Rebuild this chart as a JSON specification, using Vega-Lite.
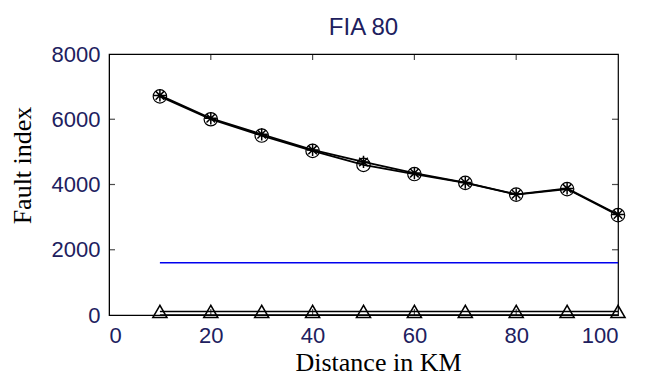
{
  "$schema": "https://vega.github.io/schema/vega-lite/v6.json",
  "width": 509,
  "height": 261,
  "autosize": {"type": "none"},
  "padding": {"left": 109, "top": 54, "right": 33, "bottom": 61},
  "background": "white",
  "title": {"text": "FIA 80", "font": "Liberation Sans", "fontSize": 24, "fontWeight": "normal", "color": "#20205e", "offset": 3},
  "config": {
    "view": {"stroke": "black", "strokeWidth": 1.2},
    "axis": {"grid": false, "ticks": false, "domainColor": "black", "labelFont": "Liberation Sans", "labelFontSize": 22, "labelColor": "#20205e", "titleFont": "Liberation Serif", "titleFontWeight": "normal", "titleColor": "black"}
  },
  "datasets": {
    "blue": [{"x": 10, "y": 1600}, {"x": 100, "y": 1600}],
    "zero": [{"x": 10, "y": 0}, {"x": 100, "y": 0}],
    "tri": [{"x": 10, "y": 110}, {"x": 20, "y": 110}, {"x": 30, "y": 110}, {"x": 40, "y": 110}, {"x": 50, "y": 110}, {"x": 60, "y": 110}, {"x": 70, "y": 110}, {"x": 80, "y": 110}, {"x": 90, "y": 110}, {"x": 100, "y": 110}],
    "circ": [{"x": 10, "y": 6700}, {"x": 20, "y": 6000}, {"x": 30, "y": 5500}, {"x": 40, "y": 5030}, {"x": 50, "y": 4600}, {"x": 60, "y": 4320}, {"x": 70, "y": 4050}, {"x": 80, "y": 3690}, {"x": 90, "y": 3860}, {"x": 100, "y": 3060}],
    "star": [{"x": 10, "y": 6730}, {"x": 20, "y": 6030}, {"x": 30, "y": 5540}, {"x": 40, "y": 5060}, {"x": 50, "y": 4690}, {"x": 60, "y": 4350}, {"x": 70, "y": 4060}, {"x": 80, "y": 3700}, {"x": 90, "y": 3880}, {"x": 100, "y": 3080}],
    "xticks": [{"x": 20}, {"x": 40}, {"x": 60}, {"x": 80}],
    "yticks": [{"y": 2000}, {"y": 4000}, {"y": 6000}]
  },
  "layer": [
    {
      "data": {"name": "blue"},
      "mark": {"type": "line", "color": "#0000ee", "strokeWidth": 1.5},
      "encoding": {
        "x": {"field": "x", "type": "quantitative", "scale": {"domain": [0, 100], "nice": false}, "axis": {"orient": "bottom", "values": [0, 20, 40, 60, 80, 100], "format": "d", "title": "Distance in KM", "titleFontSize": 26, "labelPadding": 10, "titlePadding": 3, "titleX": 269}},
        "y": {"field": "y", "type": "quantitative", "scale": {"domain": [0, 8000], "nice": false}, "axis": {"orient": "left", "values": [0, 2000, 4000, 6000, 8000], "format": "d", "title": "Fault index", "titleFontSize": 26, "labelPadding": 9, "titlePadding": 16, "titleY": 111}}
      }
    },
    {
      "data": {"name": "xticks"},
      "mark": {"type": "tick", "orient": "vertical", "color": "black", "size": 6, "thickness": 1.2, "yOffset": -3},
      "encoding": {
        "x": {"field": "x", "type": "quantitative"},
        "y": {"datum": 0, "type": "quantitative"}
      }
    },
    {
      "data": {"name": "xticks"},
      "mark": {"type": "tick", "orient": "vertical", "color": "black", "size": 6, "thickness": 1.2, "yOffset": 3},
      "encoding": {
        "x": {"field": "x", "type": "quantitative"},
        "y": {"datum": 8000, "type": "quantitative"}
      }
    },
    {
      "data": {"name": "yticks"},
      "mark": {"type": "tick", "orient": "horizontal", "color": "black", "size": 6, "thickness": 1.2, "xOffset": 3},
      "encoding": {
        "y": {"field": "y", "type": "quantitative"},
        "x": {"datum": 0, "type": "quantitative"}
      }
    },
    {
      "data": {"name": "yticks"},
      "mark": {"type": "tick", "orient": "horizontal", "color": "black", "size": 6, "thickness": 1.2, "xOffset": -3},
      "encoding": {
        "y": {"field": "y", "type": "quantitative"},
        "x": {"datum": 100, "type": "quantitative"}
      }
    },
    {
      "data": {"name": "zero"},
      "mark": {"type": "line", "color": "black", "strokeWidth": 1.5},
      "encoding": {
        "x": {"field": "x", "type": "quantitative"},
        "y": {"field": "y", "type": "quantitative"}
      }
    },
    {
      "data": {"name": "tri"},
      "mark": {"type": "line", "color": "black", "strokeWidth": 1.5},
      "encoding": {
        "x": {"field": "x", "type": "quantitative"},
        "y": {"field": "y", "type": "quantitative"}
      }
    },
    {
      "data": {"name": "tri"},
      "mark": {"type": "point", "shape": "triangle-up", "filled": false, "stroke": "black", "strokeWidth": 1.5, "size": 200, "opacity": 1},
      "encoding": {
        "x": {"field": "x", "type": "quantitative"},
        "y": {"field": "y", "type": "quantitative"}
      }
    },
    {
      "data": {"name": "circ"},
      "mark": {"type": "line", "color": "black", "strokeWidth": 1.8},
      "encoding": {
        "x": {"field": "x", "type": "quantitative"},
        "y": {"field": "y", "type": "quantitative"}
      }
    },
    {
      "data": {"name": "star"},
      "mark": {"type": "line", "color": "black", "strokeWidth": 1.8},
      "encoding": {
        "x": {"field": "x", "type": "quantitative"},
        "y": {"field": "y", "type": "quantitative"}
      }
    },
    {
      "data": {"name": "circ"},
      "mark": {"type": "point", "shape": "circle", "filled": false, "stroke": "black", "strokeWidth": 1.2, "size": 180, "opacity": 1},
      "encoding": {
        "x": {"field": "x", "type": "quantitative"},
        "y": {"field": "y", "type": "quantitative"}
      }
    },
    {
      "data": {"name": "star"},
      "mark": {"type": "point", "shape": "M-1,0L1,0M0,-1L0,1M-0.7,-0.7L0.7,0.7M-0.7,0.7L0.7,-0.7", "filled": false, "stroke": "black", "strokeWidth": 1.5, "size": 150, "opacity": 1},
      "encoding": {
        "x": {"field": "x", "type": "quantitative"},
        "y": {"field": "y", "type": "quantitative"}
      }
    }
  ]
}
